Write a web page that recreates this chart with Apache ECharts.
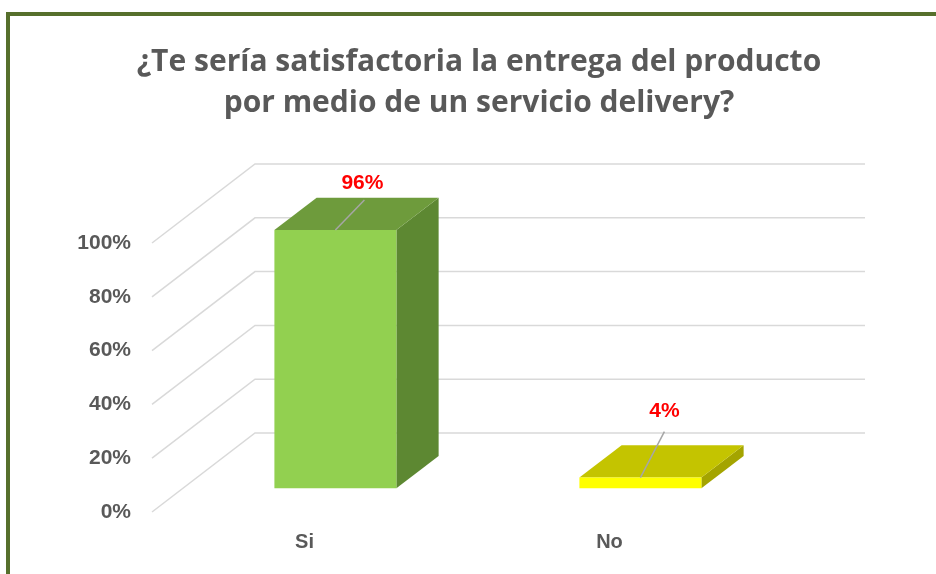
<!DOCTYPE html>
<html>
<head>
<meta charset="utf-8">
<script src="https://cdn.jsdelivr.net/npm/echarts@6/dist/echarts.min.js"></script>
<style>
  html, body { margin: 0; padding: 0; background: #fff; }
  #chart { width: 936px; height: 574px; }
</style>
</head>
<body>
<div id="chart"></div>
<script>
// data
const categories = ['Si', 'No'];
const percentValues = [96, 4];
const yTicks = [0, 20, 40, 60, 80, 100];

// look of the 3D columns
const faceColors = ['#92d050', '#ffff00'];
const topColors = ['#6e9b3c', '#c4c400'];
const sideColors = ['#5d8832', '#a4a400'];
// label nudges from the top-front edge: [lineEndX, lineEndY, textX, textY]
const labelNudge = [[29, -30, 27, -47], [24, -46, 24, -66]];

// depth of the floor, pushed back up and right
const DX = 103, DY = -79;
const D0 = 0.30, D1 = 0.71;   // bar sits between these depth fractions
const FONT = 'Liberation Sans';

const chart = echarts.init(document.getElementById('chart'));

const option = {
    backgroundColor: '#ffffff',
    animation: false,
    title: {
        text: '¿Te sería satisfactoria la entrega del producto\npor medio de un servicio delivery?',
        left: 479,
        top: 42,
        padding: 0,
        textAlign: 'center',
        textStyle: {
            fontFamily: 'Open Sans',
            fontWeight: 'bold',
            fontSize: 30,
            lineHeight: 41,
            color: '#595959'
        }
    },
    graphic: [{
        type: 'rect',
        silent: true,
        shape: { x: 8, y: 14, width: 1000, height: 1000 },
        style: { fill: null, stroke: '#566f2c', lineWidth: 4 }
    }],
    grid: { left: 152, right: 174, top: 243, bottom: 62 },
    xAxis: {
        type: 'category',
        data: categories,
        axisLine: { show: false },
        axisTick: { show: false },
        axisLabel: {
            margin: 20,
            fontFamily: FONT,
            fontWeight: 'bold',
            fontSize: 20,
            color: '#595959'
        }
    },
    yAxis: {
        type: 'value',
        min: 0,
        max: 100,
        interval: 20,
        axisLine: { show: false },
        axisTick: { show: false },
        splitLine: { show: false },
        axisLabel: {
            margin: 21,
            formatter: '{value}%',
            fontFamily: FONT,
            fontWeight: 'bold',
            fontSize: 21,
            color: '#595959'
        }
    },
    series: [
        {
            // perspective gridlines: diagonal on the side wall, flat on the back wall
            type: 'custom',
            silent: true,
            z: 1,
            data: yTicks.map(function (v) { return [0, v]; }),
            encode: { x: 0, y: 1 },
            renderItem: function (params, api) {
                const cs = params.coordSys;
                const y = api.coord([0, api.value(1)])[1];
                return {
                    type: 'polyline',
                    shape: { points: [[cs.x, y], [cs.x + DX, y + DY], [cs.x + cs.width + DX, y + DY]] },
                    style: { stroke: '#d9d9d9', lineWidth: 1.5, fill: null }
                };
            }
        },
        {
            type: 'custom',
            z: 2,
            data: percentValues.map(function (v, i) { return [i, v]; }),
            encode: { x: 0, y: 1 },
            renderItem: function (params, api) {
                const i = api.value(0);
                const v = api.value(1);
                const base = api.coord([i, 0]);
                const top = api.coord([i, v]);
                const bw = api.size([1, 0])[0] * 0.4;
                const x0 = base[0] - bw / 2 + DX * D0;
                const x1 = x0 + bw;
                const yb = base[1] + DY * D0;
                const yt = top[1] + DY * D0;
                const ddx = DX * (D1 - D0), ddy = DY * (D1 - D0);
                const cx = (x0 + x1) / 2;
                const n = labelNudge[i];
                return {
                    type: 'group',
                    children: [
                        {
                            type: 'polygon',
                            shape: { points: [[x1, yt], [x1, yb], [x1 + ddx, yb + ddy], [x1 + ddx, yt + ddy]] },
                            style: { fill: sideColors[i] }
                        },
                        {
                            type: 'polygon',
                            shape: { points: [[x0, yt], [x1, yt], [x1 + ddx, yt + ddy], [x0 + ddx, yt + ddy]] },
                            style: { fill: topColors[i] }
                        },
                        {
                            type: 'rect',
                            shape: { x: x0, y: yt, width: bw, height: yb - yt },
                            style: { fill: faceColors[i] }
                        },
                        {
                            type: 'line',
                            shape: { x1: cx, y1: yt, x2: cx + n[0], y2: yt + n[1] },
                            style: { stroke: '#a6a6a6', lineWidth: 1.5 }
                        },
                        {
                            type: 'text',
                            x: cx + n[2],
                            y: yt + n[3],
                            style: {
                                text: v + '%',
                                align: 'center',
                                verticalAlign: 'middle',
                                fontFamily: FONT,
                                fontWeight: 'bold',
                                fontSize: 21,
                                fill: '#ff0000'
                            }
                        }
                    ]
                };
            }
        }
    ]
};

chart.setOption(option);
window.addEventListener('resize', function () {
    chart.resize();
});
</script>
</body>
</html>
